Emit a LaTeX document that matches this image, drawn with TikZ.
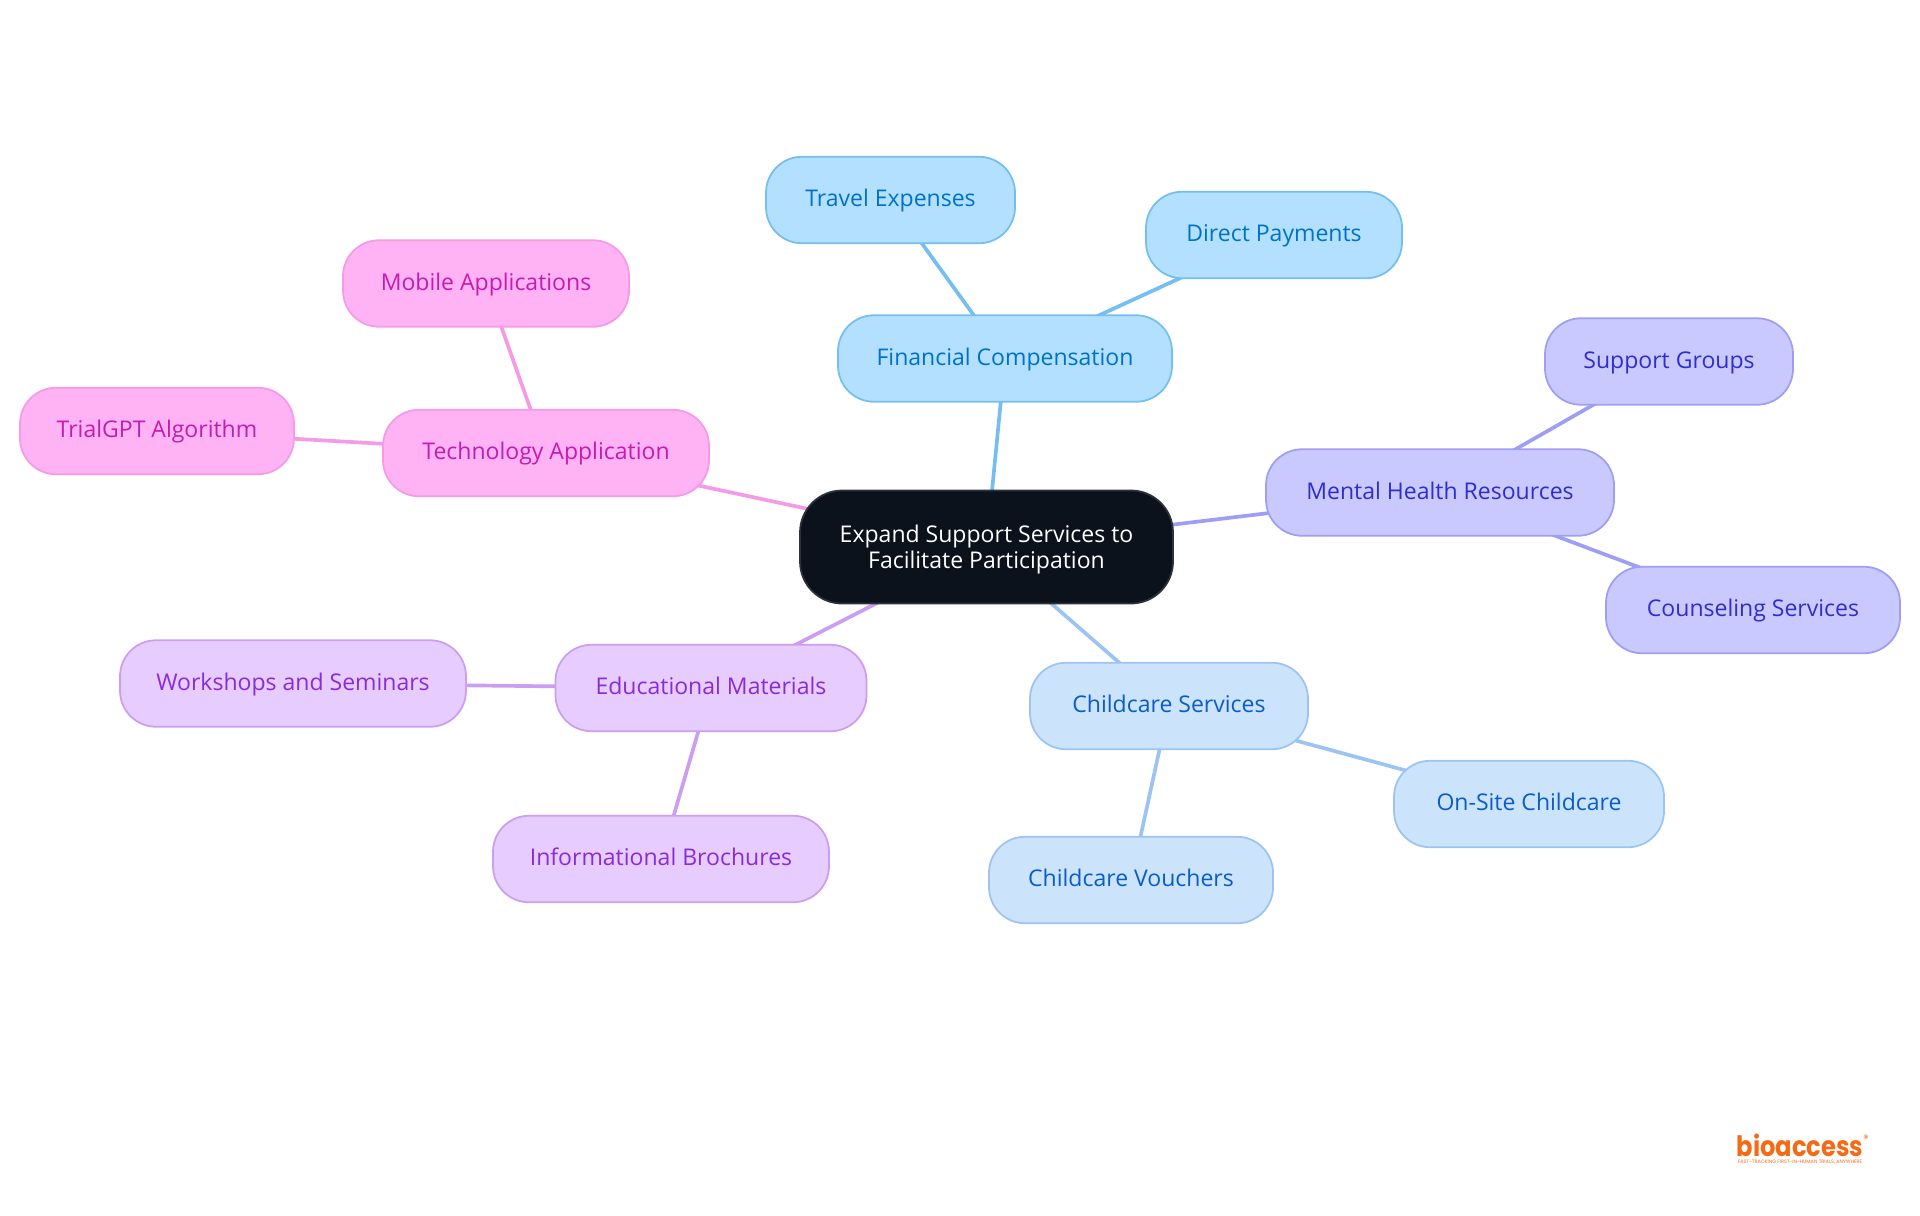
\documentclass[tikz,border=0pt]{standalone}
\usepackage{fontspec}
\setmainfont{Open Sans}
\newfontfamily\logofont{Poppins}
\usetikzlibrary{backgrounds}
\definecolor{rootfill}{HTML}{0B121B}
\definecolor{rootline}{HTML}{2C323A}
\definecolor{finfill}{HTML}{B3E0FF}
\definecolor{finline}{HTML}{74BEF2}
\definecolor{fintext}{HTML}{0072C6}
\definecolor{techfill}{HTML}{FFB3F5}
\definecolor{techline}{HTML}{F59AE6}
\definecolor{techtext}{HTML}{C71BB0}
\definecolor{menfill}{HTML}{C9C9FF}
\definecolor{menline}{HTML}{9E9EF5}
\definecolor{mentext}{HTML}{2E2ECC}
\definecolor{carefill}{HTML}{CCE3FC}
\definecolor{careline}{HTML}{9CC4F2}
\definecolor{caretext}{HTML}{0A5CC7}
\definecolor{edufill}{HTML}{E6CCFF}
\definecolor{eduline}{HTML}{CC9EF2}
\definecolor{edutext}{HTML}{8A2BD9}
\definecolor{logoorange}{HTML}{F56A14}
\tikzset{
  mapnode/.style={draw,rounded corners=0.36cm,minimum height=0.865cm,inner sep=0pt,line width=0.5pt,
    font=\fontsize{6.55}{7.4}\selectfont,align=center},
  leafnode/.style={mapnode,text height=0.2cm,text depth=0.07cm},
  finnode/.style={leafnode,fill=finfill,draw=finline,text=fintext},
  technode/.style={leafnode,fill=techfill,draw=techline,text=techtext},
  mennode/.style={leafnode,fill=menfill,draw=menline,text=mentext},
  carenode/.style={leafnode,fill=carefill,draw=careline,text=caretext},
  edunode/.style={leafnode,fill=edufill,draw=eduline,text=edutext},
  logotext/.style={inner sep=0pt,text=logoorange},
  link/.style={line width=1.05pt}
}
\begin{document}
\begin{tikzpicture}[x=1cm,y=-1cm]
	\useasboundingbox (0,0) rectangle (19.2,12.15);
	\node[mapnode,fill=rootfill,draw=rootline,text=white,minimum width=3.73cm,minimum height=1.13cm,rounded corners=0.42cm,text height=0.47cm,text depth=0.05cm] (root) at (9.865,5.47) {Expand Support Services to\\Facilitate Participation};
	% financial branch
	\node[finnode,minimum width=3.34cm] (financial) at (10.05,3.585) {Financial Compensation};
	\node[finnode,minimum width=2.49cm] (travel) at (8.905,2.0) {Travel Expenses};
	\node[finnode,minimum width=2.56cm] (direct) at (12.74,2.35) {Direct Payments};
	% technology branch
	\node[technode,minimum width=3.26cm] (technology) at (5.46,4.53) {Technology Application};
	\node[technode,minimum width=2.86cm] (mobile) at (4.86,2.835) {Mobile Applications};
	\node[technode,minimum width=2.74cm] (trialgpt) at (1.57,4.31) {TrialGPT Algorithm};
	% mental health branch
	\node[mennode,minimum width=3.48cm] (mental) at (14.40,4.925) {Mental Health Resources};
	\node[mennode,minimum width=2.48cm] (groups) at (16.69,3.615) {Support Groups};
	\node[mennode,minimum width=2.94cm] (counseling) at (17.53,6.10) {Counseling Services};
	% childcare branch
	\node[carenode,minimum width=2.78cm] (childcare) at (11.69,7.06) {Childcare Services};
	\node[carenode,minimum width=2.70cm] (onsite) at (15.29,8.04) {On-Site Childcare};
	\node[carenode,minimum width=2.84cm] (vouchers) at (11.31,8.80) {Childcare Vouchers};
	% educational branch
	\node[edunode,minimum width=3.11cm] (educational) at (7.11,6.88) {Educational Materials};
	\node[edunode,minimum width=3.46cm] (workshops) at (2.93,6.835) {Workshops and Seminars};
	\node[edunode,minimum width=3.36cm] (brochures) at (6.61,8.59) {Informational Brochures};
	% logo
	\node[logotext,anchor=base,xscale=0.86,transform shape,font=\logofont\bfseries\fontsize{8}{9}\selectfont] (logo) at (18.0,11.56) {bioaccess};
	\node[logotext,font=\logofont\fontsize{1.4}{2}\selectfont] (tagline) at (18.0,11.62) {FAST-TRACKING FIRST-IN-HUMAN TRIALS, ANYWHERE};
	\node[logotext,font=\logofont\fontsize{3}{3}\selectfont] (regmark) at (18.66,11.39) {®};
	\begin{scope}[on background layer]
		\foreach \a/\b/\c in {root/financial/finline,financial/travel/finline,financial/direct/finline,
			root/technology/techline,technology/mobile/techline,technology/trialgpt/techline,
			root/mental/menline,mental/groups/menline,mental/counseling/menline,
			root/childcare/careline,childcare/onsite/careline,childcare/vouchers/careline,
			root/educational/eduline,educational/workshops/eduline,educational/brochures/eduline}
		\draw[link,\c] (\a.center)--(\b.center);
	\end{scope}
\end{tikzpicture}
\end{document}
